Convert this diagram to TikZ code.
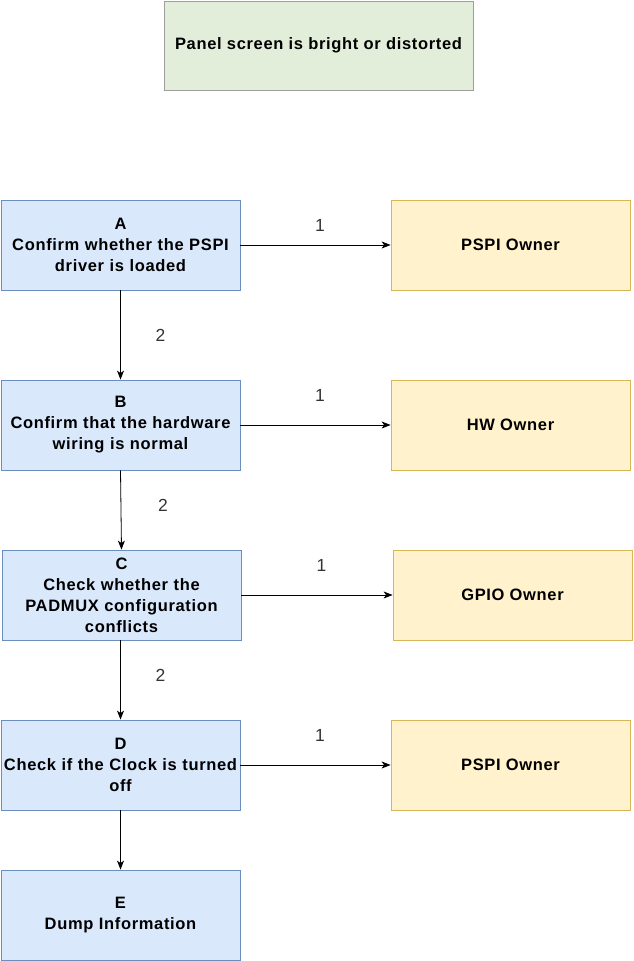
\documentclass[tikz,border=0pt]{standalone}
\usepackage{fontspec}
\setmainfont{Liberation Sans}[LetterSpace=4]
\usetikzlibrary{arrows.meta,positioning}
\definecolor{stepFill}{HTML}{DAE8FC}
\definecolor{stepLine}{HTML}{6C8EBF}
\definecolor{ownFill}{HTML}{FFF2CC}
\definecolor{ownLine}{HTML}{D6B656}
\definecolor{topFill}{HTML}{E2EEDA}
\definecolor{topLine}{HTML}{9E9E9E}
\definecolor{labC}{HTML}{333333}
\tikzset{>={Stealth[length=9pt,width=7pt,inset=2.5pt]},
  box/.style={draw,line width=0.8pt,minimum width=239pt,minimum height=90pt,
    font=\bfseries\fontsize{16.5}{21}\selectfont,align=center,inner sep=1pt},
  stepbox/.style={box,draw=stepLine,fill=stepFill,text width=237pt},
  ownbox/.style={box,draw=ownLine,fill=ownFill},
  topbox/.style={box,draw=topLine,fill=topFill,minimum width=309pt,minimum height=89pt},
  lab/.style={font=\fontsize{17.5}{18}\selectfont,text=labC,inner sep=1pt},
  link/.style={->,line width=0.8pt,black}}

\begin{document}
\begin{tikzpicture}[x=1pt,y=-1pt]
\useasboundingbox (0,0) rectangle (633,961);
\node[topbox] (fault) at (318.5,45.5) {Panel screen is bright or distorted};
\node[stepbox] (stA) at (120.5,245) {A\\Confirm whether the PSPI\\driver is loaded};
\node[ownbox] (ownA) at (510.5,245) {PSPI Owner};
\node[stepbox] (stB) at (120.5,425) {B\\Confirm that the hardware\\wiring is normal};
\node[ownbox] (ownB) at (510.5,425) {HW Owner};
\node[stepbox] (stC) at (121.5,595) {C\\Check whether the\\PADMUX configuration\\conflicts};
\node[ownbox] (ownC) at (512.5,595) {GPIO Owner};
\node[stepbox] (stD) at (120.5,765) {D\\Check if the Clock is turned\\off};
\node[ownbox] (ownD) at (510.5,765) {PSPI Owner};
\node[stepbox] (stE) at (120.5,915) {E\\Dump Information};
% 1 = escalate to owner
\draw[link] (stA.east) -- node[lab,pos=0.53,yshift=20pt]{1} (ownA.west);
\draw[link] (stB.east) -- node[lab,pos=0.53,yshift=30pt]{1} (ownB.west);
\draw[link] (stC.east) -- node[lab,pos=0.53,yshift=30pt]{1} (ownC.west);
\draw[link] (stD.east) -- node[lab,pos=0.53,yshift=30pt]{1} (ownD.west);
% 2 = next check
\draw[link] (stA.south) -- node[lab,pos=0.5,xshift=40pt]{2} (stB.north);
\draw[link] (stB.south) -- node[lab,pos=0.44,xshift=42pt]{2} (stC.north);
\draw[link] (stC.south -| stD.south) -- node[lab,pos=0.44,xshift=40pt]{2} (stD.north);
\draw[link] (stD.south) -- (stE.north);
\end{tikzpicture}
\end{document}
